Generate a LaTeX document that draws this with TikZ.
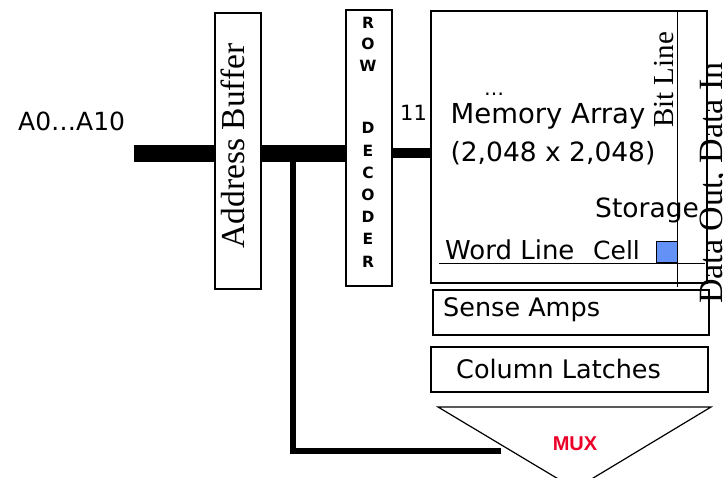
\documentclass[tikz,border=0pt]{standalone}
\usepackage{fontspec}
\newfontfamily\comic{DejaVu Sans}
\newfontfamily\serifx{Liberation Serif}
\newfontfamily\arialx{Liberation Sans}
\definecolor{cellblue}{RGB}{100,145,245}
\definecolor{muxred}{RGB}{235,0,40}
\tikzset{
  blk/.style={draw, line width=2.4pt, inner sep=0pt},
  lbl/.style={inner sep=0pt, anchor=base west},
  csz/.style={font=\comic\fontsize{#1}{#1}\selectfont},
  rlet/.style={inner sep=0pt, font=\comic\bfseries\fontsize{15.5}{15.5}\selectfont},
  vser/.style={inner sep=0pt, rotate=90, font=\serifx\fontsize{#1}{#1}\selectfont},
  bus/.style={line width=#1pt}
}
\begin{document}
\begin{tikzpicture}[x=1pt,y=-1pt]
\useasboundingbox (0,0) rectangle (723,478);
% blocks
\node[blk, minimum width=46pt, minimum height=276pt] (ab) at (238,151) {};
\node[blk, minimum width=46pt, minimum height=276pt] (rd) at (369,148) {};
\node[blk, minimum width=276pt, minimum height=272pt] (ma) at (569,147) {};
\node[blk, minimum width=276pt, minimum height=45pt] (sa) at (571,312.5) {};
\node[blk, minimum width=277pt, minimum height=45pt] (cl) at (569.5,369.5) {};
% block texts
\node[vser=33.5] (abt) at (233,146) {Address Buffer};
\foreach \l/\yy [count=\i] in {R/23,O/44,W/66,D/128,E/151,C/173,O/195,D/217,E/239,R/262}
  \node[rlet] (rl\i) at (368,\yy) {\l};
\node[lbl, csz=25.5] (sat) at (443,317) {Sense Amps};
\node[lbl, csz=25.5] (clt) at (456,378) {Column Latches};
% memory array internals
\coordinate (bl1) at (677,11);
\coordinate (bl2) at (677,287);
\draw[line width=1pt] (bl1) -- (bl2);
\coordinate (wl1) at (439,264);
\coordinate (wl2) at (705,264);
\draw[line width=1pt] (wl1) -- (wl2);
\node[draw, line width=1pt, fill=cellblue, minimum size=21pt, inner sep=0pt] (cell) at (666.5,252.5) {};
\node[inner sep=0pt, anchor=base, csz=20] (dots) at (494,96) {…};
\node[inner sep=0pt, anchor=base, csz=27.5] (mat) at (548,124) {Memory Array};
\node[inner sep=0pt, anchor=base, csz=26.5] (mas) at (553,162) {(2,048 x 2,048)};
\node[lbl, csz=26.5] (st) at (595,218) {Storage};
\node[lbl, csz=25] (ce) at (593,260) {Cell};
\node[lbl, csz=26] (wlt) at (445,260) {Word Line};
\node[vser=29] (blt) at (664,80) {Bit Line};
\node[vser=34, anchor=base] (dio) at (722.5,183) {Data Out, Data In};
% inputs and buses
\node[lbl, csz=25] (addr) at (18,131) {A0…A10};
\coordinate (in) at (134,154);
\draw[bus=17] (in) -- (in -| ab.west);
\draw[bus=17] (in -| ab.east) -- (in -| rd.west);
\coordinate (rdo) at (392,153);
\draw[bus=10] (rdo) -- (rdo -| ma.west);
\node[lbl, csz=21] (n11) at (400,121) {11};
% mux
\coordinate (m1) at (438,407);
\coordinate (m2) at (711,407);
\coordinate (m3) at (575,489);
\draw[line width=1.2pt] (m1) -- (m2) -- (m3) -- cycle;
\node[inner sep=0pt, text=muxred, font=\arialx\bfseries\fontsize{20}{20}\selectfont] (mux) at (575,443.5) {MUX};
\coordinate (br) at (292.5,154);
\coordinate (muxin) at (501,451);
\draw[bus=6] (br) |- (muxin);
\end{tikzpicture}
\end{document}
